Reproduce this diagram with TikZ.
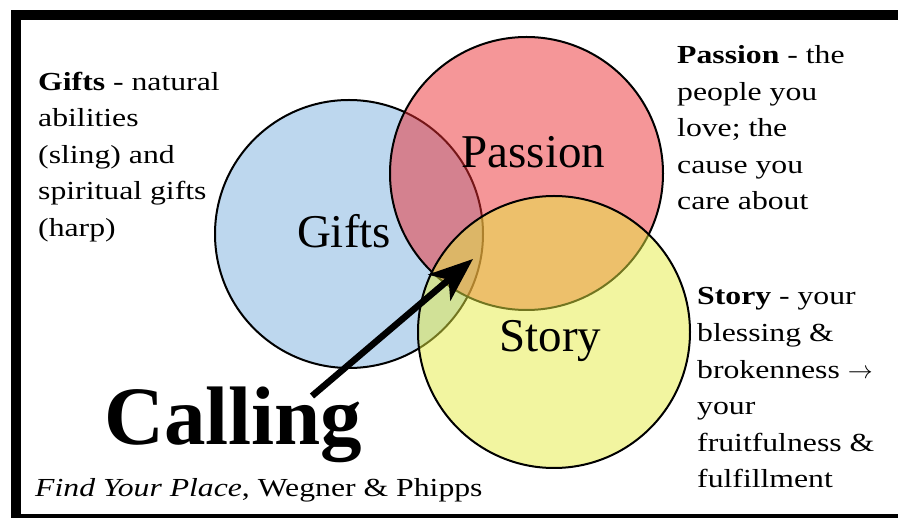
\documentclass[tikz,border=0pt]{standalone}
\usepackage{fontspec}
\setmainfont{Liberation Serif}
\newfontfamily\notefont[FakeStretch=1.22]{Liberation Serif}
\usetikzlibrary{arrows.meta}
\definecolor{giftsblue}{RGB}{189,215,238}
\definecolor{passionred}{RGB}{235,45,49}
\definecolor{storyyellow}{RGB}{229,235,65}

\begin{document}
\begin{tikzpicture}[x=1pt, y=-1pt,
    venn/.style={draw, circle, line width=2pt, inner sep=0pt, minimum size=#1},
    big/.style={font=\fontsize{47}{47}\selectfont, anchor=base, inner sep=0pt},
    note/.style={font=\notefont\fontsize{26}{36.6}\selectfont, align=left, anchor=base west, inner sep=0pt}]
    \useasboundingbox (0,0) rectangle (898,518);
    \clip (0,0) rectangle (898,518);
    % Frame
    \draw[line width=10pt] (16,15) rectangle (905,519);
    % Circles
    \node[venn=268pt, fill=giftsblue] (gifts) at (349,234) {};
    \node[venn=273pt, fill=passionred, fill opacity=0.5] (passion) at (526.5,173.5) {};
    \node[venn=272pt, fill=storyyellow, fill opacity=0.5] (story) at (554,332) {};
    % Labels (notes sit on the baseline of their last line)
    \node[big] (giftsLabel) at (344,248) {Gifts};
    \node[big] (passionLabel) at (533.5,168) {Passion};
    \node[big] (storyLabel) at (550.5,352) {Story};
    \node[note] (giftsNote) at (38,236.5) {\textbf{Gifts} - natural\\abilities\\(sling) and\\spiritual gifts\\(harp)};
    \node[note] (passionNote) at (677,210) {\textbf{Passion} - the\\people you\\love; the\\cause you\\care about};
    \node[note] (storyNote) at (697,488) {\textbf{Story} - your\\blessing \&\\brokenness $\rightarrow$\\your\\fruitfulness \&\\fulfillment};
    \node[font=\fontsize{83}{83}\selectfont\bfseries, anchor=base west, inner sep=0pt] (calling) at (104,445) {Calling};
    \node[note] (source) at (35,497) {\textit{Find Your Place}, Wegner \& Phipps};
    % Arrow
    \coordinate (tail) at (312,396);
    \coordinate (heart) at (473,259);
    \draw[line width=6.5pt, -{Stealth[length=44pt, width=34pt, inset=12pt]}] (tail) -- (heart);
\end{tikzpicture}
\end{document}
